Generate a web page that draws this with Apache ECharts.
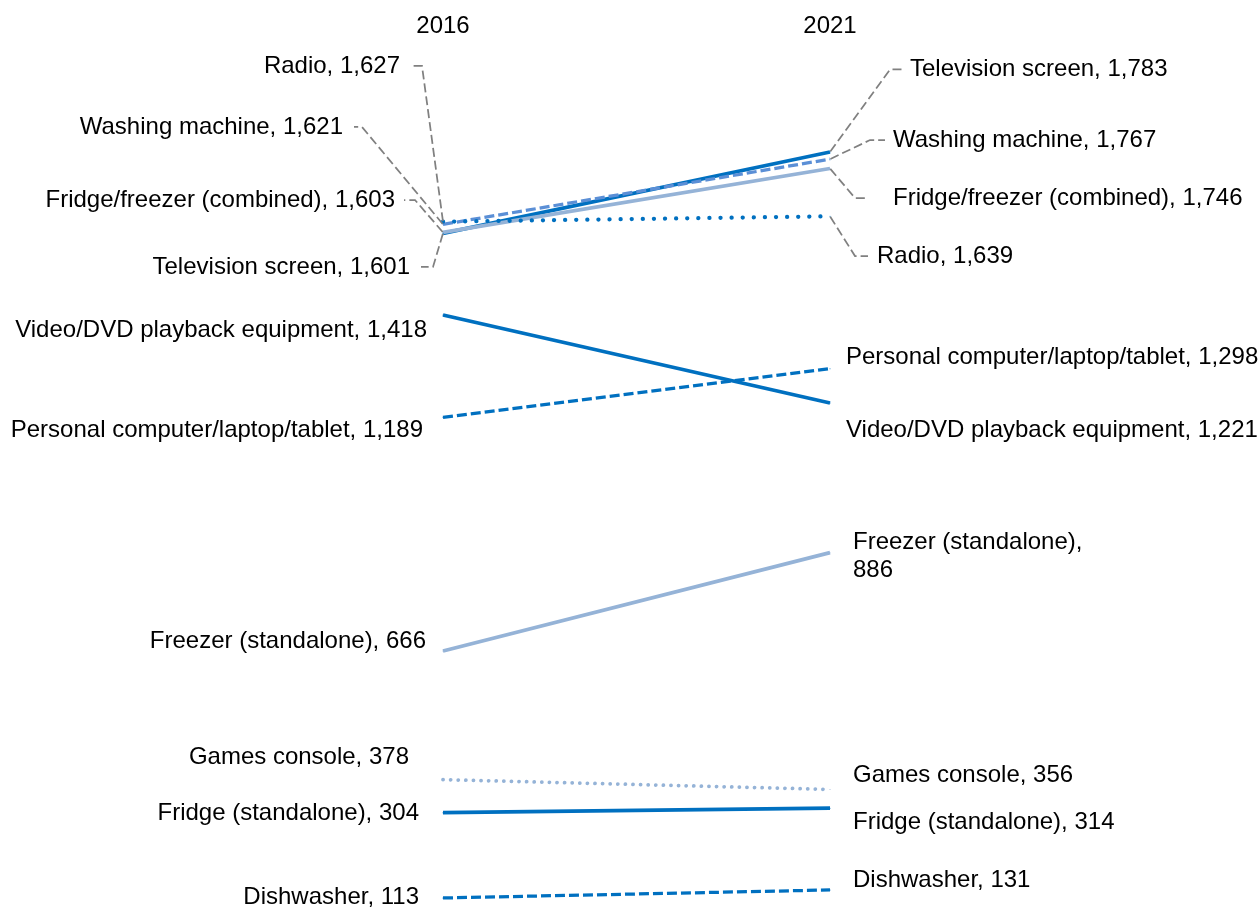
<!DOCTYPE html>
<html><head><meta charset="utf-8">
<script src="https://cdn.jsdelivr.net/npm/echarts@6/dist/echarts.min.js"></script>
<style>html,body{margin:0;padding:0;background:#fff}#c{width:1258px;height:911px}</style>
</head><body><div id="c"></div>
<script>
// ---- data ----
const categories = ['2016', '2021'];
const seriesNames = [
  'Television screen', 'Washing machine', 'Fridge/freezer (combined)', 'Radio',
  'Video/DVD playback equipment', 'Personal computer/laptop/tablet',
  'Freezer (standalone)', 'Games console', 'Fridge (standalone)', 'Dishwasher'
];
const values2016 = [1601, 1621, 1603, 1627, 1418, 1189, 666, 378, 304, 113];
const values2021 = [1783, 1767, 1746, 1639, 1221, 1298, 886, 356, 314, 131];

// ---- styles ----
const FONT = '"Liberation Sans", Arial, Helvetica, sans-serif';
const DARK = '#0070C0', LIGHT = '#95B3D7', MID = '#5B8FD6';
const lineStyles = [
  { color: DARK, type: 'solid', width: 3.75 },
  { color: MID, type: [10, 4], width: 3.25 },
  { color: LIGHT, type: 'solid', width: 3.75 },
  { color: DARK, type: [0.1, 11], width: 4.25, cap: 'round' },
  { color: DARK, type: 'solid', width: 3.75 },
  { color: DARK, type: [10, 4], width: 3.25 },
  { color: LIGHT, type: 'solid', width: 3.75 },
  { color: LIGHT, type: [0.1, 7.5], width: 3.75, cap: 'round' },
  { color: DARK, type: 'solid', width: 3.75 },
  { color: DARK, type: [10, 4], width: 3.25 }
];
// label placement per series: [2016 point, 2021 point] each [dx, dy, pad, leaderLen, wrap]
const place = [
  [[-22, 33.7, 11, 12], [72, -82.5, 8, 12]],
  [[-89, -97.4, 11, 8], [55, -19.1, 8, 15]],
  [[-39, -32.4, 9, 11], [36, 29.5, 27, 11]],
  [[-33, -155.7, 10, 12], [38, 39.7, 9, 13]],
  [[-16, 15, 0, 0], [16, 27.5, 0, 0]],
  [[-20, 12.8, 0, 0], [16, -11, 0, 0]],
  [[-17, -9.5, 0, 0], [23, 3.3, 0, 0, true]],
  [[-34, -22, 0, 0], [23, -14.4, 0, 0]],
  [[-24, 0.8, 0, 0], [23, 14.3, 0, 0]],
  [[-24, -1, 0, 0], [23, -9.5, 0, 0]]
];

const chart = echarts.init(document.getElementById('c'), null, { renderer: 'canvas' });

const series = seriesNames.map((name, si) => {
  const hasLeader = si < 4;
  const data = [values2016[si], values2021[si]].map((v, di) => {
    const cfg = place[si][di];
    const pad = cfg[2];
    return {
      value: v,
      label: {
        padding: di === 0 ? [0, pad, 0, 0] : [0, 0, 0, pad],
        formatter: () => name + (cfg[4] ? ',\n' : ', ') + v.toLocaleString('en-US')
      },
      labelLine: { length2: cfg[3] }
    };
  });
  return {
    name: name,
    type: 'line',
    data: data,
    symbol: 'circle',
    symbolSize: 1,
    showSymbol: true,
    itemStyle: { color: lineStyles[si].color },
    lineStyle: lineStyles[si],
    silent: true,
    label: {
      show: true,
      color: '#000',
      fontFamily: FONT,
      fontSize: 24,
      lineHeight: 28,
      backgroundColor: 'rgba(255,255,255,0)'
    },
    labelLine: {
      show: hasLeader,
      lineStyle: { color: '#808080', width: 1.75, type: [9, 4] }
    },
    labelLayout: function (p) {
      const cfg = place[p.seriesIndex][p.dataIndex];
      const cx = p.rect.x + p.rect.width / 2;
      const cy = p.rect.y + p.rect.height / 2;
      return {
        x: cx + cfg[0],
        y: cy + cfg[1],
        align: p.dataIndex === 0 ? 'right' : 'left',
        verticalAlign: 'middle'
      };
    }
  };
});

chart.setOption({
  animation: false,
  backgroundColor: '#fff',
  grid: { left: 443, right: 428, top: 144.4, bottom: 7.2 },
  xAxis: {
    type: 'category',
    data: categories,
    boundaryGap: false,
    position: 'top',
    axisLine: { show: false },
    axisTick: { show: false },
    splitLine: { show: false },
    axisLabel: {
      color: '#000', fontFamily: FONT, fontSize: 24,
      margin: 118, verticalAlign: 'middle'
    }
  },
  yAxis: {
    type: 'value', min: 100, max: 1800, show: false,
    splitLine: { show: false }
  },
  series: series
});
</script>
</body></html>
